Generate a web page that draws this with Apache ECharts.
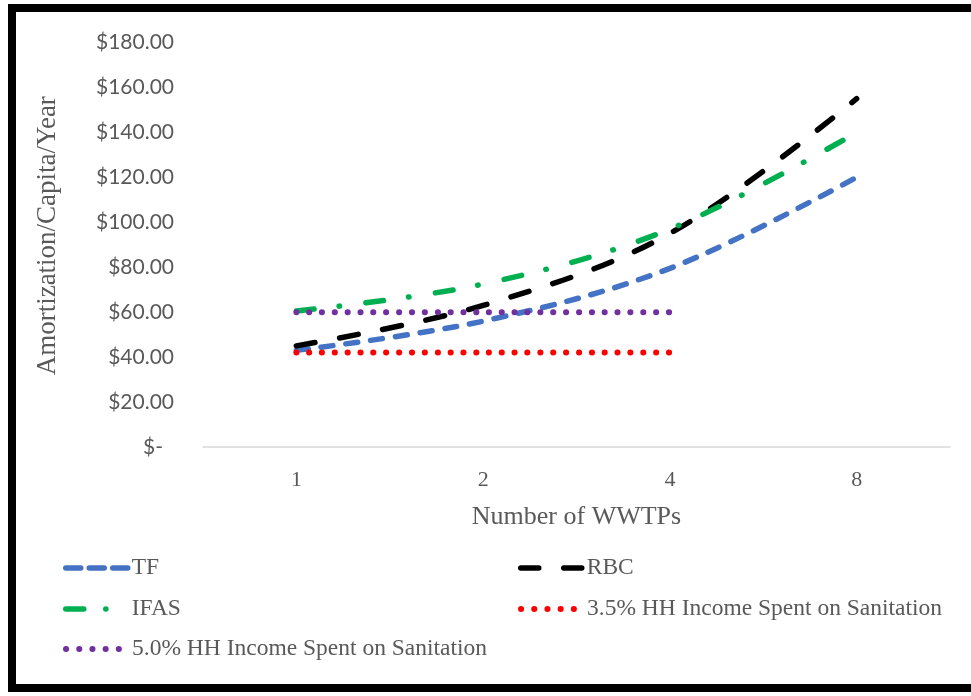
<!DOCTYPE html>
<html>
<head>
<meta charset="utf-8">
<script src="https://cdn.jsdelivr.net/npm/echarts@6/dist/echarts.min.js"></script>
<style>
  html, body { margin: 0; padding: 0; background: #fff; overflow: hidden; }
  #frame { position: absolute; left: 8px; top: 4px; width: 1100px; height: 688px; border: 8px solid #000; box-sizing: border-box; }
  #chart { position: absolute; left: 0; top: 0; width: 971px; height: 696px; }
</style>
</head>
<body>
<div id="chart"></div>
<div id="frame"></div>
<script>
// Number of treatment plants on the category axis
const plants = ['1', '2', '4', '8'];

// Amortized cost per capita per year (USD) by process
const tf   = [43, 56, 79.5, 120];
const rbc  = [45, 63, 95, 155];
const ifas = [60.5, 72.5, 97, 140];

// Affordability thresholds (share of household income)
const hh35 = [42, 42, 42];
const hh50 = [60, 60, 60];

const names = ['TF', 'RBC', 'IFAS', '3.5% HH Income Spent on Sanitation', '5.0% HH Income Spent on Sanitation'];

const serif = '"Liberation Serif", "Times New Roman", serif';
const grey = '#595959';

// per-series look: colour, dash pattern on the plot, dash pattern in the key, width
const looks = [
  { color: '#4472C4', dash: [12, 13], key: [15, 8.5], width: 5.5 },
  { color: '#000000', dash: [19, 25], key: [18, 25], width: 5.5 },
  { color: '#00B050', dash: [18, 25, 0.5, 26.5], key: [18, 22, 0.1, 40], width: 5.5 },
  { color: '#FF0000', dash: [0.1, 12.74], key: [0.1, 13.1], width: 6 },
  { color: '#7030A0', dash: [0.1, 12.74], key: [0.1, 13.1], width: 6 }
];
const values = [tf, rbc, ifas, hh35, hh50];

const legendPos = [
  { left: 58, top: 551 },
  { left: 513, top: 551 },
  { left: 58, top: 592 },
  { left: 513, top: 592 },
  { left: 58, top: 632 }
];

const chart = echarts.init(document.getElementById('chart'));
chart.setOption({
  animation: false,
  grid: { left: 203, right: 21, top: 42.5, bottom: 249, containLabel: false },
  xAxis: {
    type: 'category',
    data: plants,
    boundaryGap: true,
    name: 'Number of WWTPs',
    nameLocation: 'middle',
    nameGap: 57,
    nameTextStyle: { fontFamily: serif, fontSize: 26, color: grey },
    axisLine: { lineStyle: { color: '#d9d9d9', width: 1.5 } },
    axisTick: { show: false },
    axisLabel: { fontFamily: serif, fontSize: 22, color: grey, margin: 22 }
  },
  yAxis: {
    type: 'value',
    min: 0,
    max: 180,
    interval: 20,
    name: 'Amortization/Capita/Year',
    nameLocation: 'middle',
    nameGap: 142,
    nameTextStyle: { fontFamily: serif, fontSize: 27, color: grey, padding: [0, 0, 0, 18] },
    axisLine: { show: false },
    axisTick: { show: false },
    splitLine: { show: false },
    axisLabel: {
      margin: 29,
      fontFamily: 'Lato, "Open Sans", sans-serif',
      fontSize: 21,
      color: grey,
      formatter: function (v) { return v === 0 ? '{z|$-}' : '$' + v.toFixed(2); },
      rich: { z: { fontFamily: 'Lato, sans-serif', fontSize: 21, color: grey, padding: [0, 11, 0, 0] } }
    }
  },
  legend: names.map(function (n, i) {
    return {
      data: [{
        name: n,
        lineStyle: { color: looks[i].color, width: looks[i].width, type: looks[i].key, cap: 'round' }
      }],
      left: legendPos[i].left,
      top: legendPos[i].top,
      itemWidth: 66,
      itemHeight: 14,
      itemGap: 0,
      itemStyle: { opacity: 0 },
      textStyle: { fontFamily: serif, fontSize: 23.5, color: grey, padding: [0, 0, 0, -5] }
    };
  }),
  series: names.map(function (n, i) {
    return {
      name: n,
      type: 'line',
      data: values[i],
      smooth: 0.35,
      symbol: 'none',
      lineStyle: { color: looks[i].color, width: looks[i].width, type: looks[i].dash, cap: 'round' },
      itemStyle: { color: looks[i].color }
    };
  })
});
</script>
</body>
</html>
